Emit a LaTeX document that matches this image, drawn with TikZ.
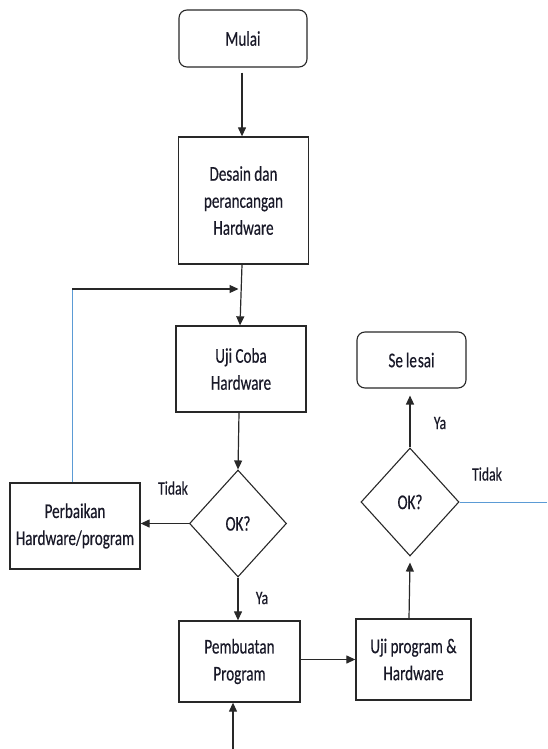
\documentclass[tikz,border=0pt]{standalone}
\usepackage{fontspec}
\setmainfont[FakeStretch=0.72,FakeBold=0.4]{Carlito}
\usetikzlibrary{arrows.meta,shapes.geometric}
\definecolor{lineblue}{RGB}{91,155,213}
\definecolor{linegray}{RGB}{40,40,40}
\definecolor{txt}{RGB}{25,25,40}
\tikzset{
  box/.style={draw=linegray, line width=1.3pt, minimum width=#1, inner sep=0pt, align=center, text=txt, font=\fontsize{21}{27}\selectfont},
  startend/.style={draw=linegray, line width=1.1pt, rounded corners=8pt, inner sep=0pt, align=center, text=txt, font=\fontsize{21}{27}\selectfont},
  decision/.style={draw=linegray, line width=1.1pt, diamond, inner sep=0pt, text=txt, font=\fontsize{21}{27}\selectfont},
  lbl/.style={text=txt, font=\fontsize{19}{24}\selectfont, inner sep=0pt},
  arr/.style={draw=linegray, line width=1.2pt, -{Triangle[length=9pt,width=8pt]}},
  blueline/.style={draw=lineblue, line width=1pt},
}
\begin{document}
\begin{tikzpicture}[x=1pt,y=-1pt]
\useasboundingbox (0,0) rectangle (547,749);
% nodes
\node[startend, minimum width=128pt, minimum height=57pt] (mulai) at (243,38.5) {Mulai};
\node[box=130pt, minimum height=127pt] (desain) at (243.5,200.5) {Desain dan\\perancangan\\Hardware};
\node[box=130pt, minimum height=86pt] (uji) at (241,369) {Uji Coba\\Hardware};
\node[decision, minimum width=97pt, minimum height=107pt] (ok1) at (238,523.5) {OK?};
\node[box=130pt, minimum height=86pt] (perbaikan) at (75,526) {Perbaikan\\Hardware/program};
\node[box=121pt, minimum height=81pt] (pembuatan) at (239.5,661.5) {Pembuatan\\Program};
\node[box=115pt, minimum height=81pt] (ujiprog) at (413.5,659.5) {Uji program \&\\Hardware};
\node[decision, minimum width=98pt, minimum height=108pt] (ok2) at (410,502) {OK?};
\node[startend, minimum width=109pt, minimum height=56pt] (selesai) at (411.5,360) {Se\kern3pt le\kern1pt sai};
% helper coordinates
\coordinate (loopcorner) at (72,289);
\coordinate (loopend) at (240,289);
\coordinate (bottomin) at (233,749);
\coordinate (rightout) at (547,502);
% connectors
\draw[arr] ([xshift=-1pt,yshift=-5pt]mulai.south) -- ([xshift=-1.5pt]desain.north);
\draw[arr] ([xshift=-1.5pt]desain.south) -- ([xshift=-1pt]uji.north);
\draw[blueline] (perbaikan.north -| loopcorner) -- (loopcorner);
\draw[arr] (loopcorner) -- ([xshift=-1.5pt]loopend);
\draw[arr] ([xshift=-2pt]uji.south) -- (ok1.north);
\draw[arr] (ok1.west) -- (perbaikan.east |- ok1.west);
\draw[arr] (ok1.south) -- (pembuatan.north -| ok1.south);
\draw[arr] (bottomin) -- (pembuatan.south -| bottomin);
\draw[arr] (pembuatan.east |- ujiprog.west) -- (ujiprog.west);
\draw[arr] ([xshift=-4.5pt]ujiprog.north) -- ([yshift=-6pt]ok2.south);
\draw[arr] (ok2.north) -- ([yshift=-7pt]selesai.south -| ok2.north);
\draw[blueline] (ok2.east) -- (rightout);
% labels
\node[lbl] (t1) at (173,488) {Tidak};
\node[lbl] (y1) at (262,598) {Ya};
\node[lbl] (y2) at (440,423) {Ya};
\node[lbl] (t2) at (487,474) {Tidak};
\end{tikzpicture}
\end{document}
